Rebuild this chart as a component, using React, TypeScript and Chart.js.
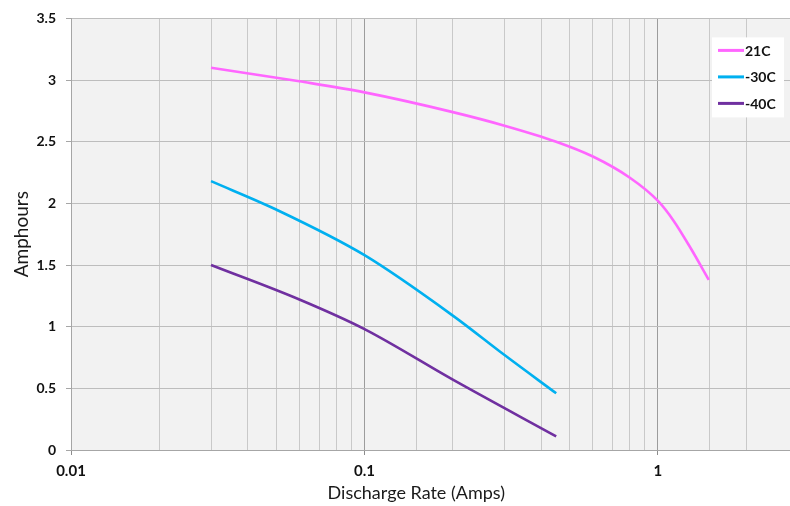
import React, { useEffect, useRef } from "react";
import { Chart, registerables } from "chart.js";

Chart.register(...registerables);

const seriesLabels = ["21C", "-30C", "-40C"];
const seriesColors = ["#FF66FF", "#00B0F0", "#7030A0"];

const rate21 = [0.03, 0.06, 0.1, 0.2, 0.3, 0.45, 0.6, 0.8, 1.0, 1.13, 1.29, 1.49];
const amp21 = [3.10, 2.99, 2.90, 2.74, 2.63, 2.50, 2.38, 2.21, 2.02, 1.86, 1.64, 1.38];

const rate30 = [0.03, 0.05, 0.1, 0.2, 0.3, 0.45];
const amp30 = [2.18, 1.95, 1.58, 1.09, 0.77, 0.46];

const rate40 = [0.03, 0.06, 0.1, 0.2, 0.45];
const amp40 = [1.50, 1.22, 0.98, 0.57, 0.11];

const xMin = 0.01;
const xMax = 3;
const yMin = 0;
const yMax = 3.5;
const yStep = 0.5;

const xTitle = "Discharge Rate (Amps)";
const yTitle = "Amphours";

const FONT = "Lato, 'Open Sans', sans-serif";

const isDecade = (v: number) => {
  const l = Math.log10(v);
  return Math.abs(l - Math.round(l)) < 1e-6;
};

const toPoints = (xs: number[], ys: number[]) => xs.map((x, i) => ({ x, y: ys[i] }));

const bgPlugin = {
  id: "plotBg",
  beforeDraw(chart: any) {
    const { ctx, chartArea } = chart;
    ctx.save();
    ctx.fillStyle = "#F2F2F2";
    ctx.fillRect(chartArea.left, chartArea.top, chartArea.right - chartArea.left, chartArea.bottom - chartArea.top);
    ctx.restore();
  },
};

const legendPlugin = {
  id: "innerLegend",
  afterDraw(chart: any) {
    const { ctx, chartArea } = chart;
    const right = chartArea.right - 14;
    const top = chartArea.top + 19;
    const w = 72;
    const h = 80;
    const left = right - w;
    ctx.save();
    ctx.fillStyle = "#FFFFFF";
    ctx.fillRect(left, top, w, h);
    ctx.font = `bold 14px ${FONT}`;
    ctx.textBaseline = "middle";
    ctx.textAlign = "left";
    chart.data.datasets.forEach((ds: any, i: number) => {
      const y = top + 13 + i * 26.5;
      ctx.strokeStyle = ds.borderColor;
      ctx.lineWidth = 3;
      ctx.beginPath();
      ctx.moveTo(left + 6, y);
      ctx.lineTo(left + 32, y);
      ctx.stroke();
      ctx.fillStyle = "#111";
      ctx.fillText(ds.label, left + 33, y + 1);
    });
    ctx.restore();
  },
};

const xTitlePlugin = {
  id: "xTitleText",
  afterDraw(chart: any) {
    const { ctx, chartArea } = chart;
    ctx.save();
    ctx.font = `18px ${FONT}`;
    ctx.fillStyle = "#1a1a1a";
    ctx.textAlign = "center";
    ctx.textBaseline = "alphabetic";
    const cx = chartArea.left + (chartArea.right - chartArea.left) * 0.475;
    ctx.fillText(xTitle, cx, chartArea.bottom + 49);
    ctx.restore();
  },
};

export default function App() {
  const ref = useRef<HTMLCanvasElement | null>(null);

  useEffect(() => {
    if (!ref.current) return;
    const rates = [rate21, rate30, rate40];
    const amps = [amp21, amp30, amp40];
    const chart = new Chart(ref.current, {
      type: "line",
      data: {
        datasets: seriesLabels.map((label, i) => ({
          label,
          data: toPoints(rates[i], amps[i]),
          borderColor: seriesColors[i],
          backgroundColor: seriesColors[i],
          borderWidth: 2.6,
          pointRadius: 0,
          pointHoverRadius: 0,
          fill: false,
          cubicInterpolationMode: "monotone" as const,
        })),
      },
      options: {
        animation: false,
        responsive: false,
        layout: { padding: { top: 17, right: 3, left: 0, bottom: 0 } },
        plugins: {
          legend: { display: false },
          tooltip: { enabled: false },
        },
        scales: {
          x: {
            type: "logarithmic",
            min: xMin,
            max: xMax,
            afterFit: (scale: any) => {
              scale.height = 56;
            },
            border: { display: true, color: "#A6A6A6", width: 1 },
            grid: {
              color: (ctx: any) => (ctx.tick && isDecade(ctx.tick.value) ? "#9C9C9C" : "#C9C9C9"),
              tickColor: (ctx: any) => (ctx.tick && isDecade(ctx.tick.value) ? "#8C8C8C" : "rgba(0,0,0,0)"),
              tickLength: 5,
              lineWidth: 1,
            },
            ticks: {
              autoSkip: false,
              maxRotation: 0,
              padding: 7,
              color: "#111",
              font: { family: FONT, size: 15, weight: "bold" },
              callback: (v: any) => {
                const n = Number(v);
                if (!isDecade(n)) return "";
                return String(Number(n.toPrecision(1)));
              },
            },
          },
          y: {
            type: "linear",
            min: yMin,
            max: yMax,
            afterFit: (scale: any) => {
              scale.width = 71;
            },
            border: { display: true, color: "#A6A6A6", width: 1 },
            grid: {
              color: "#BDBDBD",
              tickColor: "#A6A6A6",
              tickLength: 5,
              lineWidth: 1,
            },
            ticks: {
              stepSize: yStep,
              padding: 10,
              color: "#111",
              font: { family: FONT, size: 14, weight: "bold" },
              callback: (v: any) => String(Number(v)),
            },
            title: {
              display: true,
              text: yTitle,
              color: "#1a1a1a",
              font: { family: FONT, size: 19, weight: "normal" },
              padding: { top: 10, bottom: 0 },
            },
          },
        },
      },
      plugins: [bgPlugin, legendPlugin, xTitlePlugin],
    } as any);
    return () => chart.destroy();
  }, []);

  return (
    <div
      style={{
        position: "fixed",
        left: 0,
        top: 0,
        width: 790,
        height: 506,
        overflow: "hidden",
        background: "#fff",
      }}
    >
      <canvas ref={ref} width={805} height={506} style={{ display: "block", width: 805, height: 506 }} />
    </div>
  );
}
